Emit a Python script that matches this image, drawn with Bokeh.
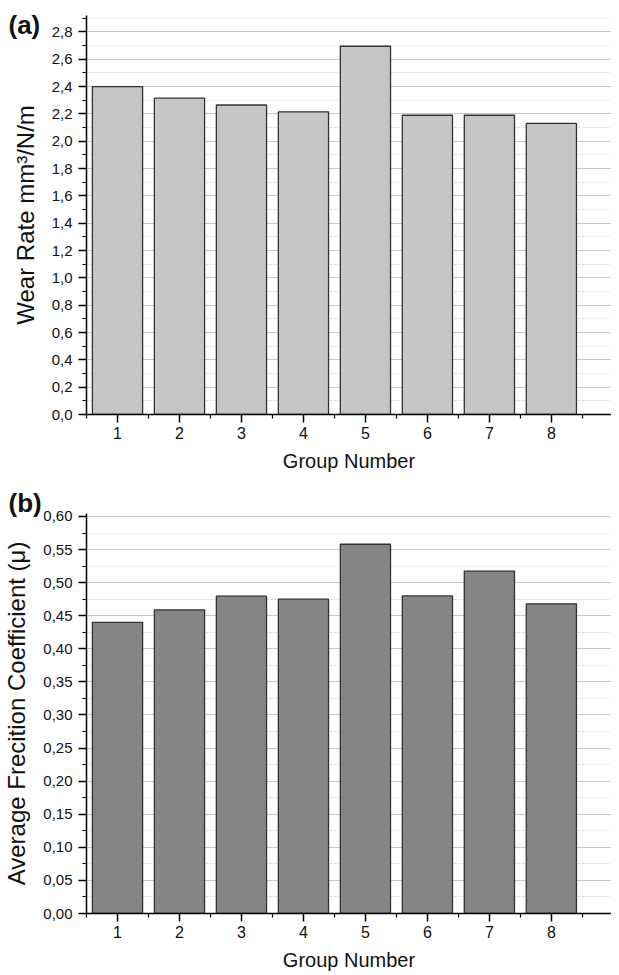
from bokeh.plotting import figure
from bokeh.models import FixedTicker, Range1d
from bokeh.layouts import column
from bokeh.embed import file_html
from bokeh.resources import INLINE

groups = [1, 2, 3, 4, 5, 6, 7, 8]
group_minor = [0.5, 1.5, 2.5, 3.5, 4.5, 5.5, 6.5, 7.5, 8.5]
wear_rate = [2.40, 2.315, 2.265, 2.215, 2.695, 2.19, 2.19, 2.13]
friction = [0.44, 0.459, 0.4795, 0.475, 0.558, 0.48, 0.5175, 0.468]

wear_ticks = [0.0, 0.2, 0.4, 0.6, 0.8, 1.0, 1.2, 1.4, 1.6, 1.8, 2.0, 2.2, 2.4, 2.6, 2.8]
wear_tick_labels = ["0,0", "0,2", "0,4", "0,6", "0,8", "1,0", "1,2", "1,4", "1,6",
                    "1,8", "2,0", "2,2", "2,4", "2,6", "2,8"]
wear_minor = [0.1, 0.3, 0.5, 0.7, 0.9, 1.1, 1.3, 1.5, 1.7, 1.9, 2.1, 2.3, 2.5, 2.7, 2.9]

fric_ticks = [0.00, 0.05, 0.10, 0.15, 0.20, 0.25, 0.30, 0.35, 0.40, 0.45, 0.50, 0.55, 0.60]
fric_tick_labels = ["0,00", "0,05", "0,10", "0,15", "0,20", "0,25", "0,30", "0,35",
                    "0,40", "0,45", "0,50", "0,55", "0,60"]
fric_minor = [0.025, 0.075, 0.125, 0.175, 0.225, 0.275, 0.325, 0.375, 0.425,
              0.475, 0.525, 0.575]

FONT = "Liberation Sans"


def make_panel(values, ticks, tick_labels, minor, ymax, fill, ylabel, tag,
               height, btop, bbottom, tag_standoff):
    p = figure(width=611, height=height, output_backend="svg", toolbar_location=None,
               x_range=Range1d(0.5, 8.97), y_range=Range1d(0, ymax),
               min_border_left=80, min_border_right=0, min_border_top=btop,
               min_border_bottom=bbottom)
    p.vbar(x=groups, top=values, width=0.81, fill_color=fill,
           line_color="#333333", line_width=1.3)
    p.outline_line_color = None
    p.xgrid.grid_line_color = None
    p.ygrid.ticker = FixedTicker(ticks=ticks, minor_ticks=minor)
    p.ygrid.grid_line_color = "#c8c8c8"
    p.ygrid.grid_line_width = 1.2
    p.ygrid.minor_grid_line_color = "#d6d6d6"
    p.ygrid.minor_grid_line_dash = "2 2"
    p.ygrid.level = "underlay"

    p.yaxis.ticker = FixedTicker(ticks=ticks, minor_ticks=minor)
    p.yaxis.major_label_overrides = {t: l for t, l in zip(ticks, tick_labels)}
    p.xaxis.ticker = FixedTicker(ticks=groups, minor_ticks=group_minor)
    for ax in (p.xaxis[0], p.yaxis[0]):
        ax.axis_line_color = "black"
        ax.axis_line_width = 1.5
        ax.major_tick_line_color = "black"
        ax.major_tick_line_width = 1.5
        ax.minor_tick_line_color = "black"
        ax.minor_tick_line_width = 1.2
        ax.major_tick_out = 8
        ax.major_tick_in = 0
        ax.minor_tick_out = 4
        ax.minor_tick_in = 0
        ax.major_label_text_font = FONT
        ax.major_label_text_color = "#111111"
        ax.axis_label_text_font = FONT
        ax.axis_label_text_font_style = "normal"
        ax.axis_label_text_color = "#111111"
    p.xaxis.major_label_text_font_size = "16px"
    p.yaxis.major_label_text_font_size = "15px"
    p.xaxis.axis_label = "Group Number"
    p.xaxis.axis_label_text_font_size = "20px"
    p.xaxis.major_label_standoff = 4
    p.xaxis.axis_label_standoff = 8
    p.yaxis.axis_label = ylabel
    p.yaxis.axis_label_text_font_size = "24px"
    p.yaxis.major_label_standoff = 6
    p.yaxis.axis_label_standoff = 10

    p.title.text = tag
    p.title.align = "left"
    p.title.offset = -78
    p.title.standoff = tag_standoff
    p.title.text_font = FONT
    p.title.text_font_size = "26px"
    p.title.text_font_style = "bold"
    p.title.text_color = "#111111"
    return p


pa = make_panel(wear_rate, wear_ticks, wear_tick_labels, wear_minor, 2.92, "#c6c6c6",
                "Wear Rate mm³/N/m", "(a)", 488, 15, 74, -48)
pb = make_panel(friction, fric_ticks, fric_tick_labels, fric_minor, 0.6045, "#858585",
                "Average Frecition Coefficient (μ)", "(b)", 487, 25, 62, -9)

layout = column(pa, pb, spacing=0)
open("out.html", "w").write(file_html(layout, INLINE))
